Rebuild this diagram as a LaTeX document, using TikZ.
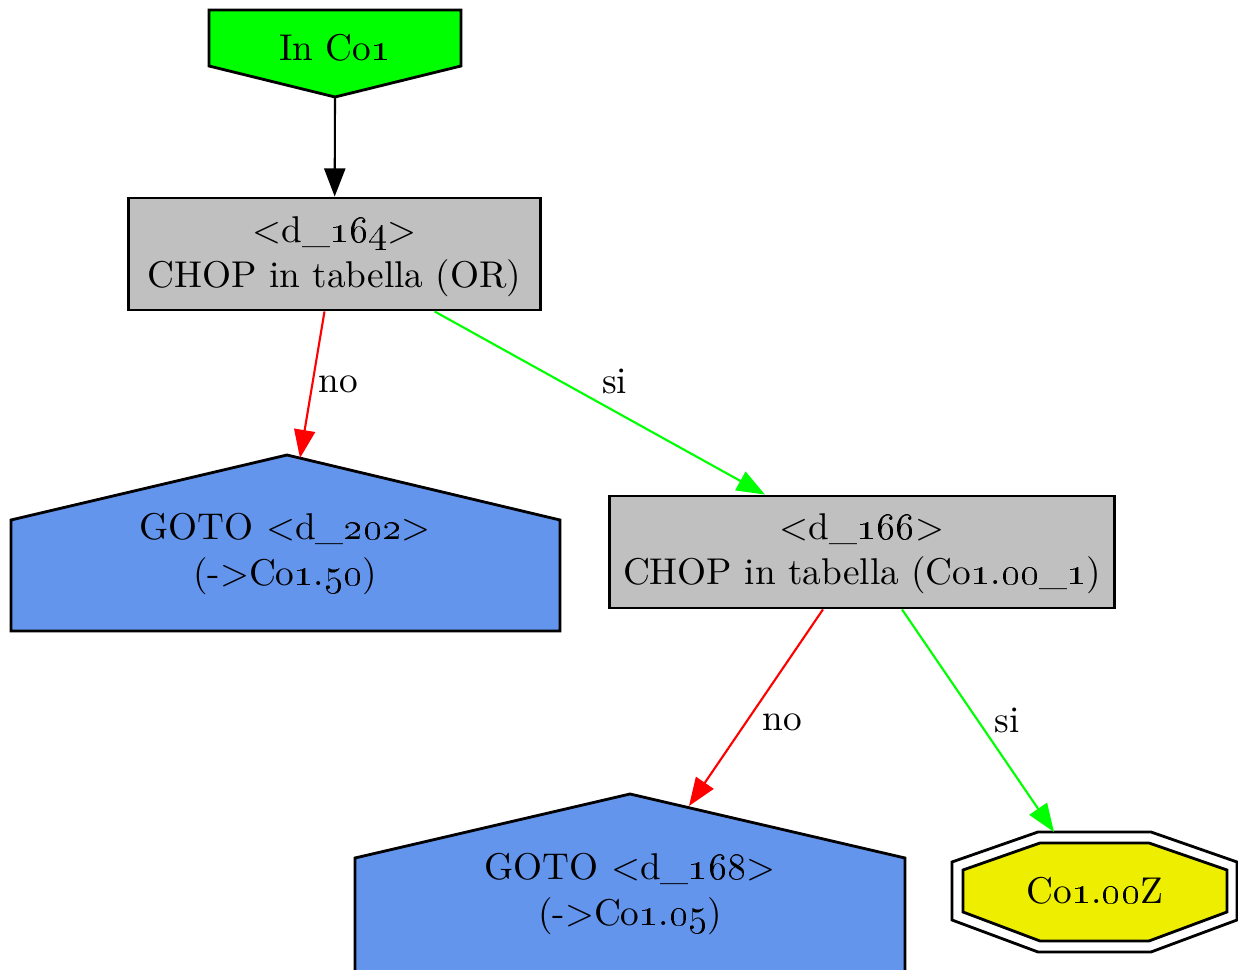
\documentclass[tikz,border=0pt]{standalone}
\usetikzlibrary{arrows.meta}

\definecolor{startgreen}{RGB}{0,255,0}
\definecolor{chopgray}{RGB}{192,192,192}
\definecolor{gotoblue}{RGB}{100,149,237}
\definecolor{endyellow}{RGB}{238,238,0}
\definecolor{sigreen}{RGB}{0,255,0}
\definecolor{nored}{RGB}{255,0,0}

\newcommand{\os}[1]{\oldstylenums{#1}}

\tikzset{
  txt/.style={font=\fontsize{10.6}{12.9}\selectfont, align=center, inner sep=0pt},
  chopbox/.style={draw=black, fill=chopgray, line width=0.8pt, minimum height=1.12cm},
  shapeline/.style={draw=black, line width=0.8pt},
  edge/.style={line width=0.6pt, -{Triangle[length=8pt,width=6pt]}},
  edgelabel/.style={txt, inner sep=1.5pt, text=black},
}

\begin{document}
\begin{tikzpicture}[x=0.01cm, y=-0.01cm]
\useasboundingbox (0,0) rectangle (1238,970);

% start node
\draw[shapeline, fill=startgreen] (209,10) -- (461,10) -- (461,66) -- (335,97) -- (209,66) -- cycle;
\node[txt] (start) at (335,48) {In Co\os{1}};
\coordinate (starttip) at (335,97);

% tests
\node[chopbox, minimum width=4.11cm] (d164) at (334.5,254) {};
\node[txt] (t164) at (334.5,257) {<d\_\os{164}>\\CHOP in tabella (OR)};
\node[chopbox, minimum width=5.04cm] (d166) at (862,552) {};
\node[txt] (t166) at (862,554) {<d\_\os{166}>\\CHOP in tabella (Co\os{1}.\os{00}\_\os{1})};

% goto d_202
\draw[shapeline, fill=gotoblue] (11,631) -- (11,520) -- (287,455) -- (560,520) -- (560,631) -- cycle;
\node[txt] (g202) at (285,554) {GOTO <d\_\os{202}>\\(->Co\os{1}.\os{50})};
\coordinate (g202tip) at (300,458);

% goto d_168
\draw[shapeline, fill=gotoblue] (355,975) -- (355,858) -- (630,794) -- (905,858) -- (905,975) -- cycle;
\node[txt] (g168) at (630,894) {GOTO <d\_\os{168}>\\(->Co\os{1}.\os{05})};
\coordinate (g168tip) at (689,806);

% end node
\draw[shapeline, fill=white] (1038,832) -- (1151,832) -- (1237,862) -- (1237,920) -- (1151,952) -- (1038,952) -- (952,920) -- (952,862) -- cycle;
\draw[shapeline, fill=endyellow] (1040,843) -- (1149,843) -- (1227,870) -- (1227,912) -- (1149,941) -- (1040,941) -- (963,912) -- (963,870) -- cycle;
\node[txt] (endnode) at (1095,891) {Co\os{1}.\os{00}Z};
\coordinate (endtip) at (1054,832);

% edges
\draw[edge, black] (starttip) -- (d164);
\draw[edge, nored] ([xshift=-0.1cm]d164.south) -- (g202tip) node[midway, right, edgelabel] {no};
\draw[edge, sigreen] ([xshift=1cm]d164.south) -- ([xshift=-0.97cm]d166.north) node[midway, above right, edgelabel, xshift=-0.04cm, yshift=0.03cm] {si};
\draw[edge, nored] ([xshift=-0.39cm]d166.south) -- (g168tip) node[midway, below right, edgelabel] {no};
\draw[edge, sigreen] ([xshift=0.4cm]d166.south) -- (endtip) node[midway, right=3pt, edgelabel] {si};

\end{tikzpicture}
\end{document}
